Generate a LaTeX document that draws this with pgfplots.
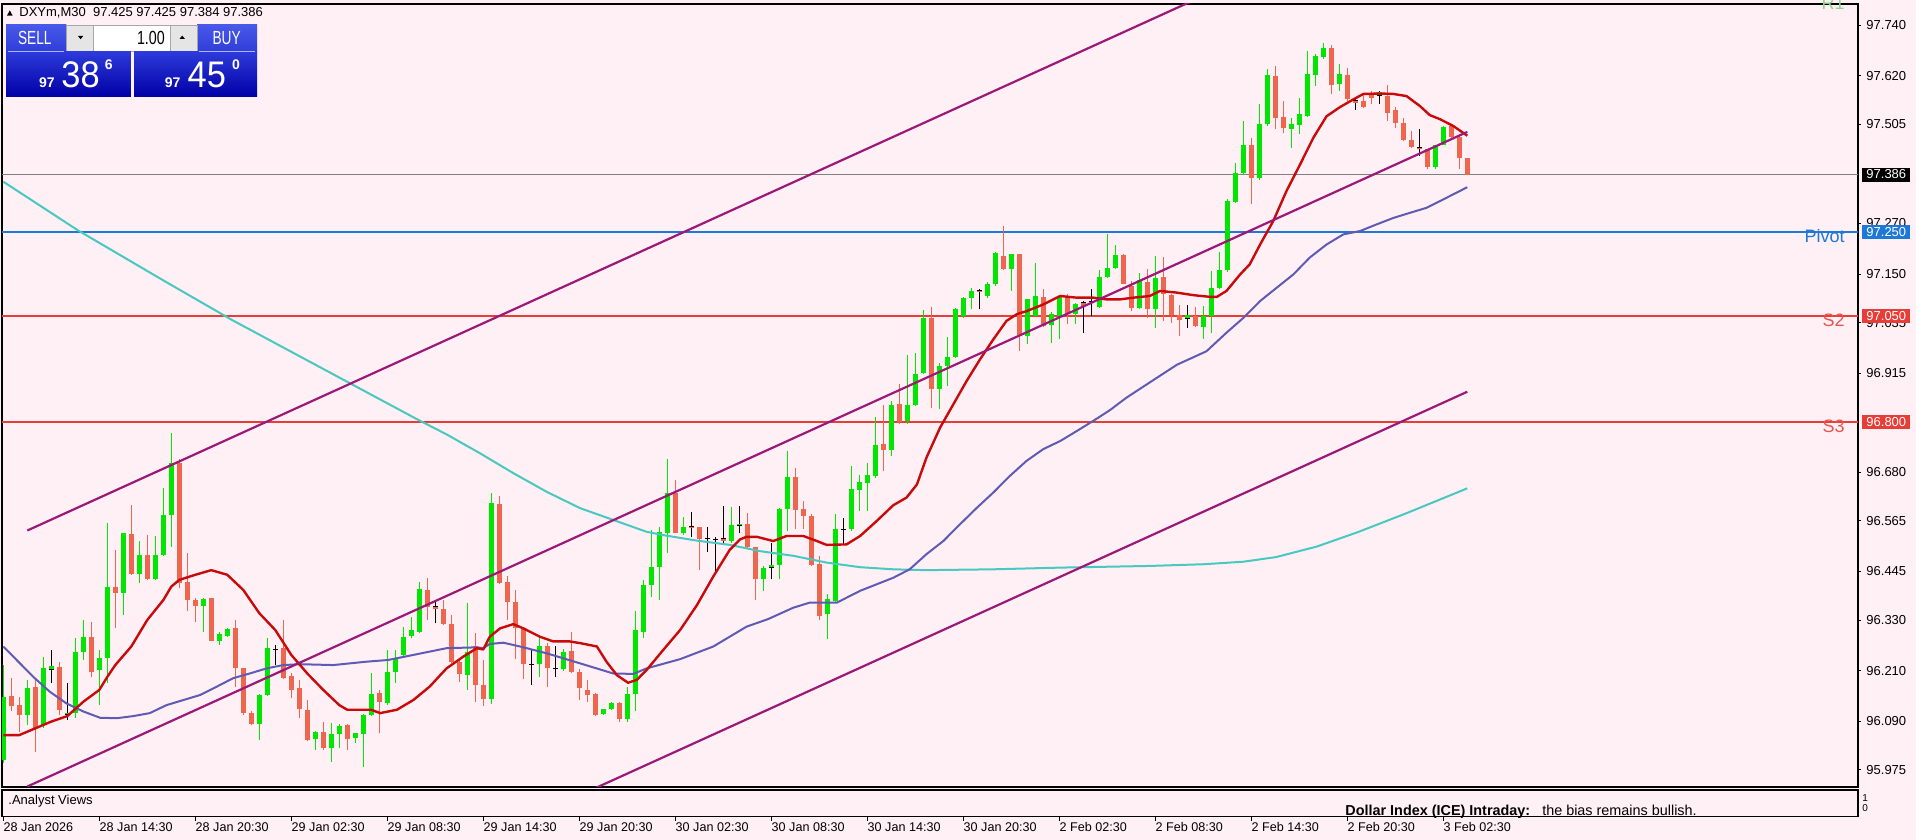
\documentclass[border=0pt]{standalone}
\usepackage{fontspec}
\setmainfont{Liberation Sans}
\usepackage{pgfplots}
\pgfplotsset{compat=1.18}
\usepackage{pgfplotstable}
\usepackage{graphicx}

\definecolor{bg}{RGB}{255,240,245}
\definecolor{bull}{RGB}{0,230,0}
\definecolor{bear}{RGB}{238,102,78}
\definecolor{maRed}{RGB}{200,10,10}
\definecolor{maBlue}{RGB}{95,90,180}
\definecolor{maCyan}{RGB}{72,200,192}
\definecolor{chan}{RGB}{155,25,120}
\definecolor{pivot}{RGB}{30,120,215}
\definecolor{sline}{RGB}{232,60,55}
\definecolor{stxt}{RGB}{230,85,80}
\definecolor{rone}{RGB}{140,215,140}
\definecolor{btnTop}{RGB}{72,88,232}
\definecolor{btnBot}{RGB}{48,62,218}
\definecolor{pxTop}{RGB}{45,58,218}
\definecolor{pxBot}{RGB}{0,0,165}

\newcommand{\tf}{\fontsize{6.5}{7.5}\selectfont}
\newcommand{\df}{\fontsize{6.3}{7.5}\selectfont}

\pgfplotsset{
  wick/.style={draw=none, mark=none, forget plot,
    error bars/y dir=plus, error bars/y explicit, error bars/error mark=none,
    error bars/error bar style={draw=#1, line width=0.5pt}},
  body/.style={draw=none, mark=none, forget plot,
    error bars/y dir=plus, error bars/y explicit, error bars/error mark=none,
    error bars/error bar style={draw=#1, line width=2.6pt}},
  up/.style={x filter/.expression={\thisrow{c}>\thisrow{o} ? x : nan}},
  dn/.style={x filter/.expression={\thisrow{c}<\thisrow{o} ? x : nan}},
  dj/.style={x filter/.expression={\thisrow{c}==\thisrow{o} ? x : nan}},
}

% DXYm M30 candles, bar index, open high low close
\pgfplotstableread{
i o h l c
0 95.998 96.223 95.990 96.148
1 96.150 96.192 96.113 96.126
2 96.128 96.148 96.065 96.105
3 96.105 96.188 96.081 96.168
4 96.172 96.192 96.018 96.073
5 96.081 96.243 96.073 96.215
6 96.213 96.259 96.180 96.221
7 96.219 96.231 96.105 96.116
8 96.105 96.180 96.093 96.110
9 96.109 96.286 96.097 96.255
10 96.255 96.330 96.235 96.290
11 96.290 96.326 96.195 96.207
12 96.211 96.259 96.128 96.239
13 96.239 96.559 96.180 96.409
14 96.409 96.496 96.310 96.395
15 96.395 96.537 96.342 96.535
16 96.533 96.602 96.437 96.439
17 96.439 96.516 96.417 96.484
18 96.484 96.531 96.425 96.426
19 96.426 96.529 96.425 96.484
20 96.484 96.642 96.482 96.579
21 96.579 96.772 96.504 96.701
22 96.703 96.711 96.405 96.417
23 96.419 96.488 96.350 96.377
24 96.377 96.381 96.326 96.363
25 96.363 96.383 96.302 96.380
26 96.381 96.383 96.279 96.281
27 96.279 96.302 96.271 96.297
28 96.292 96.310 96.290 96.308
29 96.312 96.330 96.172 96.215
30 96.215 96.215 96.105 96.109
31 96.109 96.113 96.081 96.083
32 96.083 96.154 96.045 96.152
33 96.152 96.286 96.150 96.263
34 96.259 96.271 96.223 96.259
35 96.263 96.330 96.189 96.192
36 96.196 96.203 96.144 96.165
37 96.168 96.188 96.097 96.118
38 96.116 96.140 96.044 96.045
39 96.047 96.067 96.022 96.065
40 96.065 96.089 96.022 96.026
41 96.026 96.085 95.994 96.060
42 96.060 96.083 96.026 96.079
43 96.081 96.083 96.022 96.047
44 96.049 96.063 96.039 96.061
45 96.060 96.107 95.982 96.105
46 96.105 96.203 96.102 96.154
47 96.156 96.164 96.061 96.136
48 96.134 96.259 96.128 96.206
49 96.206 96.259 96.180 96.237
50 96.247 96.314 96.243 96.289
51 96.292 96.338 96.286 96.305
52 96.302 96.421 96.298 96.403
53 96.401 96.429 96.330 96.360
54 96.363 96.373 96.322 96.357
55 96.357 96.377 96.318 96.320
56 96.320 96.342 96.227 96.231
57 96.231 96.235 96.184 96.202
58 96.199 96.371 96.164 96.255
59 96.267 96.298 96.136 96.176
60 96.176 96.235 96.126 96.142
61 96.142 96.630 96.131 96.608
62 96.606 96.624 96.415 96.418
63 96.421 96.433 96.330 96.373
64 96.373 96.401 96.237 96.310
65 96.308 96.314 96.189 96.226
66 96.224 96.259 96.176 96.226
67 96.226 96.290 96.195 96.267
68 96.267 96.276 96.170 96.215
69 96.215 96.267 96.195 96.213
70 96.213 96.260 96.210 96.255
71 96.257 96.302 96.203 96.206
72 96.207 96.213 96.140 96.168
73 96.164 96.188 96.136 96.152
74 96.154 96.156 96.102 96.105
75 96.107 96.120 96.105 96.118
76 96.118 96.136 96.117 96.134
77 96.134 96.136 96.089 96.094
78 96.094 96.172 96.089 96.154
79 96.154 96.350 96.113 96.305
80 96.302 96.425 96.286 96.413
81 96.413 96.543 96.385 96.456
82 96.456 96.551 96.377 96.539
83 96.537 96.711 96.488 96.632
84 96.630 96.662 96.535 96.537
85 96.535 96.575 96.531 96.550
86 96.551 96.587 96.527 96.547
87 96.550 96.551 96.448 96.521
88 96.523 96.550 96.492 96.523
89 96.521 96.527 96.437 96.521
90 96.523 96.599 96.513 96.518
91 96.518 96.597 96.513 96.555
92 96.555 96.599 96.535 96.557
93 96.557 96.584 96.500 96.504
94 96.502 96.504 96.377 96.426
95 96.426 96.458 96.399 96.454
96 96.454 96.513 96.426 96.460
97 96.460 96.595 96.426 96.592
98 96.592 96.731 96.541 96.669
99 96.669 96.691 96.545 96.590
100 96.592 96.612 96.545 96.576
101 96.576 96.580 96.458 96.460
102 96.463 96.482 96.331 96.339
103 96.343 96.391 96.284 96.379
104 96.375 96.580 96.371 96.545
105 96.545 96.572 96.509 96.545
106 96.545 96.695 96.541 96.640
107 96.637 96.674 96.588 96.657
108 96.655 96.703 96.588 96.674
109 96.671 96.811 96.667 96.745
110 96.746 96.840 96.683 96.732
111 96.732 96.849 96.719 96.840
112 96.841 96.890 96.794 96.800
113 96.802 96.958 96.794 96.840
114 96.840 96.964 96.837 96.914
115 96.916 97.064 96.912 97.045
116 97.045 97.072 96.833 96.877
117 96.877 96.938 96.829 96.932
118 96.932 97.001 96.885 96.953
119 96.953 97.069 96.952 97.066
120 97.051 97.096 97.047 97.094
121 97.094 97.116 97.066 97.110
122 97.110 97.114 97.066 97.107
123 97.098 97.130 97.094 97.126
124 97.126 97.203 97.122 97.201
125 97.193 97.264 97.159 97.161
126 97.161 97.198 97.110 97.197
127 97.197 97.198 96.968 97.003
128 97.003 97.092 96.985 97.090
129 97.051 97.177 97.051 97.098
130 97.096 97.114 97.025 97.027
131 97.029 97.059 96.987 97.055
132 97.051 97.100 96.995 97.098
133 97.098 97.102 97.031 97.055
134 97.055 97.082 97.031 97.080
135 97.082 97.086 97.011 97.074
136 97.086 97.114 97.051 97.086
137 97.072 97.159 97.070 97.143
138 97.143 97.244 97.140 97.164
139 97.164 97.220 97.161 97.195
140 97.195 97.197 97.126 97.127
141 97.122 97.134 97.062 97.069
142 97.069 97.153 97.066 97.135
143 97.132 97.163 97.046 97.066
144 97.066 97.193 97.023 97.141
145 97.143 97.190 97.039 97.102
146 97.100 97.102 97.035 97.053
147 97.053 97.076 97.003 97.042
148 97.045 97.076 97.023 97.053
149 97.050 97.072 97.024 97.027
150 97.024 97.074 96.997 97.050
151 97.050 97.157 97.011 97.118
152 97.118 97.203 97.114 97.159
153 97.159 97.327 97.155 97.323
154 97.321 97.414 97.319 97.390
155 97.390 97.514 97.385 97.457
156 97.457 97.473 97.315 97.377
157 97.377 97.554 97.374 97.505
158 97.505 97.635 97.501 97.623
159 97.619 97.643 97.495 97.519
160 97.522 97.560 97.485 97.497
161 97.495 97.519 97.448 97.505
162 97.503 97.568 97.481 97.530
163 97.525 97.680 97.522 97.625
164 97.623 97.672 97.596 97.667
165 97.664 97.698 97.661 97.687
166 97.687 97.694 97.576 97.598
167 97.600 97.649 97.584 97.625
168 97.622 97.638 97.560 97.564
169 97.562 97.568 97.540 97.556
170 97.560 97.576 97.543 97.546
171 97.580 97.584 97.554 97.568
172 97.574 97.585 97.554 97.582
173 97.572 97.598 97.514 97.532
174 97.540 97.546 97.497 97.509
175 97.509 97.519 97.465 97.469
176 97.469 97.489 97.448 97.451
177 97.451 97.493 97.430 97.446
178 97.446 97.446 97.400 97.404
179 97.404 97.457 97.400 97.456
180 97.457 97.501 97.456 97.498
181 97.501 97.503 97.472 97.475
182 97.475 97.481 97.400 97.424
183 97.425 97.425 97.384 97.386
}\candles

\begin{document}
\begin{tikzpicture}
\useasboundingbox (0,0) rectangle (958pt,420pt);
\fill[bg] (0,0) rectangle (958pt,420pt);

\begin{axis}[
  at={(1pt,26.5pt)}, anchor=south west, scale only axis,
  width=928pt, height=391.5pt,
  xmin=-0.1625, xmax=231.84, ymin=95.9339, ymax=97.7903,
  axis line style={black, line width=0.6pt},
  xtick=\empty,
  ytick={97.740,97.620,97.505,97.270,97.150,97.035,96.915,96.680,96.565,96.445,96.330,96.210,96.090,95.975},
  yticklabels={97.740,97.620,97.505,97.270,97.150,97.035,96.915,96.680,96.565,96.445,96.330,96.210,96.090,95.975},
  ytick pos=right, yticklabel pos=right,
  tick align=outside, major tick length=1.5pt,
  tick style={black, line width=0.4pt},
  yticklabel style={font=\tf, anchor=west, inner sep=0pt, xshift=2.5pt},
]
% levels
\addplot[gray, line width=0.5pt, forget plot] coordinates {(-1,97.386) (240,97.386)};
\addplot[pivot, line width=1pt, forget plot] coordinates {(-1,97.25) (240,97.25)};
\addplot[sline, line width=0.9pt, forget plot] coordinates {(-1,97.05) (240,97.05)};
\addplot[sline, line width=0.9pt, forget plot] coordinates {(-1,96.80) (240,96.80)};

% candles
\addplot[up, wick=bull] table[x=i, y=l, y error expr=\thisrow{h}-\thisrow{l}] {\candles};
\addplot[dn, wick=bear] table[x=i, y=l, y error expr=\thisrow{h}-\thisrow{l}] {\candles};
\addplot[dj, wick=black] table[x=i, y=l, y error expr=\thisrow{h}-\thisrow{l}] {\candles};
\addplot[up, body=bull] table[x=i, y=o, y error expr=\thisrow{c}-\thisrow{o}] {\candles};
\addplot[dn, body=bear] table[x=i, y=c, y error expr=\thisrow{o}-\thisrow{c}] {\candles};
\addplot[dj, draw=none, mark=none, forget plot,
  error bars/x dir=both, error bars/x fixed=0.3, error bars/error mark=none,
  error bars/error bar style={draw=black, line width=0.5pt}] table[x=i, y=o] {\candles};

% moving averages
\addplot[maCyan, line width=1pt, line join=round] coordinates {
(0,97.369) (9.3,97.254) (20,97.135) (28.6,97.041) (40,96.925) (51.7,96.806)
(55.4,96.770) (59.6,96.725) (63.75,96.678) (67.9,96.634) (72.1,96.595)
(76.25,96.567) (80.4,96.539) (82.5,96.531) (86.7,96.518) (90.8,96.508)
(94.6,96.493) (98.75,96.482) (102.9,96.466) (107.1,96.455) (111.25,96.450)
(115.4,96.448) (123.75,96.450) (132.1,96.454) (143.3,96.458) (150,96.462)
(155,96.468) (159.1,96.479) (164.2,96.504) (169.3,96.538) (175.4,96.583) (183,96.642)};

\addplot[maBlue, line width=1pt, line join=round] coordinates {
(0,96.267) (1.67,96.235) (3.75,96.195) (5.8,96.160) (7.9,96.132) (10,96.113)
(12.1,96.098) (14.2,96.097) (16.25,96.102) (18.3,96.109) (20.4,96.128)
(22.5,96.140) (24.6,96.152) (26.7,96.172) (28.75,96.192) (30.8,96.203)
(32.9,96.215) (35,96.223) (37.1,96.225) (41.25,96.223) (45.4,96.231)
(48.1,96.235) (51.25,96.247) (55.4,96.263) (59.2,96.265) (60,96.263)
(60.8,96.273) (62.5,96.276) (64.6,96.267) (67.9,96.251) (72.1,96.227)
(76.25,96.203) (78.75,96.202) (80.4,96.215) (84.6,96.237) (88.75,96.267)
(92.9,96.314) (95.6,96.332) (98.75,96.359) (100.8,96.371) (104.2,96.371)
(107.1,96.399) (111.25,96.430) (113.3,96.450) (115.4,96.486) (117.5,96.517)
(119.6,96.557) (121.7,96.596) (123.75,96.632) (125.8,96.671) (127.9,96.707)
(130,96.735) (132.1,96.754) (134.2,96.778) (136.25,96.802) (138.3,96.827)
(140.4,96.857) (143.3,96.893) (146.7,96.935) (150.4,96.967) (152.9,97.011)
(155,97.046) (157.1,97.086) (159.2,97.118) (161.25,97.149) (163.3,97.189)
(165.4,97.220) (167.5,97.244) (169.6,97.252) (171.7,97.268) (173.75,97.283)
(175.8,97.295) (177.9,97.307) (180,97.327) (183,97.356)};

\addplot[maRed, line width=1.2pt, line join=round] coordinates {
(0,96.057) (2,96.057) (4,96.073) (6,96.089) (8,96.102) (10,96.136) (12,96.164)
(13,96.195) (14,96.223) (16,96.267) (18,96.330) (20,96.377) (21,96.409)
(22,96.425) (24,96.437) (26,96.448) (28,96.437) (30,96.401) (32,96.346)
(34,96.306) (36,96.247) (38,96.203) (40,96.164) (42,96.128) (43,96.117)
(46,96.117) (47.1,96.109) (49.2,96.117) (51.25,96.140) (53.3,96.172)
(55.4,96.215) (57.5,96.243) (59.2,96.263) (60,96.260) (60.8,96.290)
(62.1,96.310) (63.75,96.320) (65,96.310) (67.1,96.290) (68.75,96.279)
(70.8,96.279) (72.1,96.275) (74.2,96.267) (75.4,96.231) (76.7,96.199)
(78.1,96.181) (79.2,96.188) (80.4,96.211) (82.5,96.259) (84.6,96.306)
(86.7,96.365) (88.75,96.433) (90.8,96.496) (92.1,96.521) (92.9,96.527)
(94.2,96.527) (96.25,96.517) (97.9,96.529) (100,96.529) (101.7,96.517)
(102.9,96.508) (105.4,96.509) (107.1,96.529) (109.2,96.565) (111.25,96.602)
(112.9,96.620) (114.2,96.651) (115.4,96.715) (117.1,96.786) (118.75,96.841)
(120.4,96.896) (122.1,96.948) (123.75,96.995) (125.4,97.039) (126.7,97.055)
(127.9,97.062) (130,97.078) (132.1,97.098) (134.2,97.094) (136.25,97.094)
(137.9,97.090) (139.6,97.090) (141.25,97.094) (143.3,97.098) (144.6,97.110)
(146.7,97.106) (148.75,97.100) (150.8,97.096) (151.7,97.096) (152.9,97.110)
(154.6,97.149) (155.8,97.173) (157.1,97.220) (158.75,97.276) (160.4,97.347)
(162.1,97.410) (163.75,97.473) (165.4,97.524) (167.1,97.546) (168.75,97.564)
(170,97.577) (172.1,97.578) (173.75,97.577) (175.4,97.572) (177.1,97.548)
(178.3,97.527) (179.6,97.517) (181.25,97.501) (183,97.478)};

% regression channel
\addplot[chan, line width=1.1pt] coordinates {(3,96.542) (183,98.094)};
\addplot[chan, line width=1.1pt] coordinates {(3,95.935) (183,97.487)};
\addplot[chan, line width=1.1pt] coordinates {(3,95.319) (183,96.871)};

\coordinate (L386) at (axis cs:231.84,97.386);
\coordinate (LPV) at (axis cs:231.84,97.25);
\coordinate (LS2) at (axis cs:231.84,97.05);
\coordinate (LS3) at (axis cs:231.84,96.80);
\end{axis}

% indicator sub window with the time scale
\begin{axis}[
  at={(1pt,11.7pt)}, anchor=south west, scale only axis,
  width=928pt, height=13.3pt,
  xmin=-0.1625, xmax=231.84, ymin=0, ymax=1,
  axis line style={black, line width=0.6pt},
  ytick=\empty,
  xtick={0,12,...,180},
  xticklabels={28 Jan 2026,28 Jan 14:30,28 Jan 20:30,29 Jan 02:30,29 Jan 08:30,29 Jan 14:30,29 Jan 20:30,30 Jan 02:30,30 Jan 08:30,30 Jan 14:30,30 Jan 20:30,2 Feb 02:30,2 Feb 08:30,2 Feb 14:30,2 Feb 20:30,3 Feb 02:30},
  xtick pos=left, tick align=outside, major tick length=2pt,
  tick style={black, line width=0.4pt},
  xticklabel style={font=\df, anchor=north west, inner sep=0pt, yshift=-0.7pt},
]
\end{axis}

% level labels
\node[fill=black, text=white, anchor=west, inner xsep=2pt, inner ysep=1.2pt, font=\tf] at ([xshift=2pt]L386) {97.386};
\node[fill=pivot, text=white, anchor=west, inner xsep=2pt, inner ysep=1.2pt, font=\tf] at ([xshift=2pt]LPV) {97.250};
\node[fill=sline, text=white, anchor=west, inner xsep=2pt, inner ysep=1.2pt, font=\tf] at ([xshift=2pt]LS2) {97.050};
\node[fill=sline, text=white, anchor=west, inner xsep=2pt, inner ysep=1.2pt, font=\tf] at ([xshift=2pt]LS3) {96.800};
\node[anchor=north east, inner sep=0pt, text=pivot, font=\fontsize{9}{10}\selectfont] at ([xshift=-6.5pt,yshift=1.2pt]LPV) {Pivot};
\node[anchor=north east, inner sep=0pt, text=stxt, font=\fontsize{9}{10}\selectfont] at ([xshift=-6.5pt,yshift=1.2pt]LS2) {S2};
\node[anchor=north east, inner sep=0pt, text=stxt, font=\fontsize{9}{10}\selectfont] at ([xshift=-6.5pt,yshift=1.2pt]LS3) {S3};
\node[anchor=base east, inner sep=0pt, text=rone, font=\fontsize{9}{10}\selectfont] at (922.5pt,415pt) {R1};

% symbol line
\fill[black] (3.5pt,412.2pt) -- (6.3pt,412.2pt) -- (4.9pt,414.8pt) -- cycle;
\node[anchor=west, inner sep=0pt, font=\tf] at (9.5pt,413.5pt) {DXYm,M30\ \ 97.425 97.425 97.384 97.386};

% one click trading panel
\shade[top color=btnTop, bottom color=btnBot] (3pt,394.2pt) rectangle (33.2pt,407.5pt);
\shade[top color=btnTop, bottom color=btnBot] (98.5pt,394.2pt) rectangle (128.5pt,407.5pt);
\fill[black!10] (33.2pt,394.4pt) rectangle (46.5pt,407.5pt);
\fill[white] (46.5pt,394.4pt) rectangle (85.3pt,407.5pt);
\fill[black!10] (85.3pt,394.4pt) rectangle (98.5pt,407.5pt);
\draw[black!35, line width=0.3pt] (33.2pt,394.4pt) rectangle (98.5pt,407.5pt)
  (46.5pt,394.4pt) -- (46.5pt,407.5pt) (85.3pt,394.4pt) -- (85.3pt,407.5pt);
\fill[black] (39pt,402pt) -- (41.6pt,402pt) -- (40.3pt,400.4pt) -- cycle;
\fill[black] (89.8pt,400.6pt) -- (92.4pt,400.6pt) -- (91.1pt,402.2pt) -- cycle;
\shade[top color=pxTop, bottom color=pxBot] (3pt,371.6pt) rectangle (65.4pt,394.2pt);
\shade[top color=pxTop, bottom color=pxBot] (67pt,371.6pt) rectangle (128.5pt,394.2pt);
\draw[blue!30!white, line width=0.4pt] (4pt,394.2pt) -- (32pt,394.2pt) (99.5pt,394.2pt) -- (127.5pt,394.2pt);
\node[text=white, inner sep=0pt, font=\fontsize{9.5}{10}\selectfont] at (17.4pt,400.8pt) {\scalebox{0.72}[1]{SELL}};
\node[text=white, inner sep=0pt, font=\fontsize{9.5}{10}\selectfont] at (113.3pt,400.8pt) {\scalebox{0.72}[1]{BUY}};
\node[anchor=east, inner sep=0pt, font=\fontsize{9.5}{10}\selectfont] at (82.6pt,401.2pt) {\scalebox{0.75}[1]{1.00}};
\node[text=white, inner sep=0pt, font=\bfseries\fontsize{7}{8}\selectfont] at (23.5pt,378.9pt) {97};
\node[text=white, inner sep=0pt, font=\fontsize{18.5}{20}\selectfont] at (40.3pt,382.5pt) {\scalebox{0.93}[1]{38}};
\node[text=white, inner sep=0pt, font=\bfseries\fontsize{7}{8}\selectfont] at (54.4pt,387.5pt) {6};
\node[text=white, inner sep=0pt, font=\bfseries\fontsize{7}{8}\selectfont] at (86.3pt,378.9pt) {97};
\node[text=white, inner sep=0pt, font=\fontsize{18.5}{20}\selectfont] at (103.4pt,382.5pt) {\scalebox{0.93}[1]{45}};
\node[text=white, inner sep=0pt, font=\bfseries\fontsize{7}{8}\selectfont] at (118pt,387.5pt) {0};

% sub window texts
\node[anchor=west, inner sep=0pt, font=\tf] at (4pt,19.2pt) {.Analyst Views};
\node[anchor=base west, inner sep=0pt, font=\fontsize{7.2}{8}\selectfont] at (672.5pt,12pt) {\textbf{Dollar Index (ICE) Intraday:}\ \ \ the bias remains bullish.};
\node[anchor=west, inner sep=0pt, font=\fontsize{5}{6}\selectfont] at (931pt,21pt) {1};
\node[anchor=west, inner sep=0pt, font=\fontsize{5}{6}\selectfont] at (931pt,16.2pt) {0};
\end{tikzpicture}
\end{document}
